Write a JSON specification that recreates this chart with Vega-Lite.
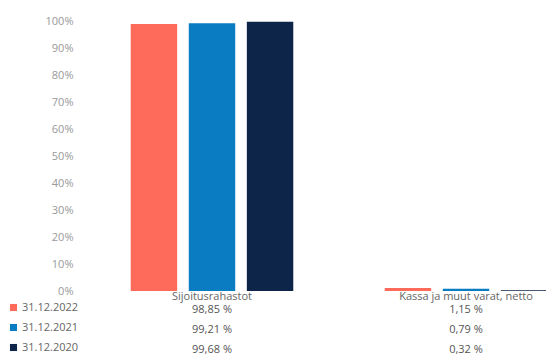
{
  "$schema": "https://vega.github.io/schema/vega-lite/v6.json",
  "padding": {"left": 0, "top": 15, "right": 0, "bottom": 0},
  "background": "white",
  "config": {"font": "Open Sans", "view": {"stroke": null}, "concat": {"spacing": 0}},
  "datasets": {
    "d": [
      {"kategoria": "Sijoitusrahastot", "sarja": "31.12.2022", "arvo": 98.85, "teksti": "98,85 %"},
      {"kategoria": "Sijoitusrahastot", "sarja": "31.12.2021", "arvo": 99.21, "teksti": "99,21 %"},
      {"kategoria": "Sijoitusrahastot", "sarja": "31.12.2020", "arvo": 99.68, "teksti": "99,68 %"},
      {"kategoria": "Kassa ja muut varat, netto", "sarja": "31.12.2022", "arvo": 1.15, "teksti": "1,15 %"},
      {"kategoria": "Kassa ja muut varat, netto", "sarja": "31.12.2021", "arvo": 0.79, "teksti": "0,79 %"},
      {"kategoria": "Kassa ja muut varat, netto", "sarja": "31.12.2020", "arvo": 0.32, "teksti": "0,32 %"}
    ]
  },
  "vconcat": [
    {
      "width": 508,
      "height": 270,
      "data": {"name": "d"},
      "mark": {"type": "bar"},
      "encoding": {
        "x": {
          "field": "kategoria", "type": "nominal", "sort": null,
          "scale": {"paddingInner": 0.36, "paddingOuter": 0.18},
          "axis": {"title": null, "labelAngle": 0, "domain": false, "ticks": false, "labelPadding": -1,
                   "labelFontSize": 11, "labelColor": "#666", "minExtent": 8, "maxExtent": 8}
        },
        "xOffset": {"field": "sarja", "sort": null, "scale": {"paddingInner": 0.2}},
        "y": {
          "field": "arvo", "type": "quantitative",
          "scale": {"domain": [0, 100]},
          "axis": {"title": null, "values": [0, 10, 20, 30, 40, 50, 60, 70, 80, 90, 100],
                   "labelExpr": "datum.value + '%'", "grid": false, "domain": false, "ticks": false,
                   "labelPadding": 12, "labelFontSize": 11, "labelColor": "#999",
                   "minExtent": 85, "maxExtent": 85}
        },
        "color": {
          "field": "sarja", "type": "nominal", "sort": null,
          "scale": {"range": ["#FF6B5B", "#0A7DC2", "#0C2548"]},
          "legend": {"title": null, "orient": "none", "legendX": -77, "legendY": 281,
                     "symbolType": "square", "symbolSize": 50, "labelFontSize": 11, "labelColor": "#666",
                     "rowPadding": 8, "symbolOffset": 0, "labelOffset": 3}
        }
      }
    },
    {
      "width": 508,
      "height": 60,
      "data": {"name": "d"},
      "mark": {"type": "text", "fontSize": 11, "color": "#555", "dy": -1},
      "encoding": {
        "x": {
          "field": "kategoria", "type": "nominal", "sort": null,
          "scale": {"paddingInner": 0.36, "paddingOuter": 0.18},
          "axis": null
        },
        "y": {
          "field": "sarja", "type": "nominal", "sort": null,
          "scale": {"paddingInner": 0, "paddingOuter": 0},
          "axis": {"title": null, "labels": false, "ticks": false, "domain": false, "grid": false,
                   "minExtent": 85, "maxExtent": 85}
        },
        "text": {"field": "teksti"}
      }
    }
  ]
}
